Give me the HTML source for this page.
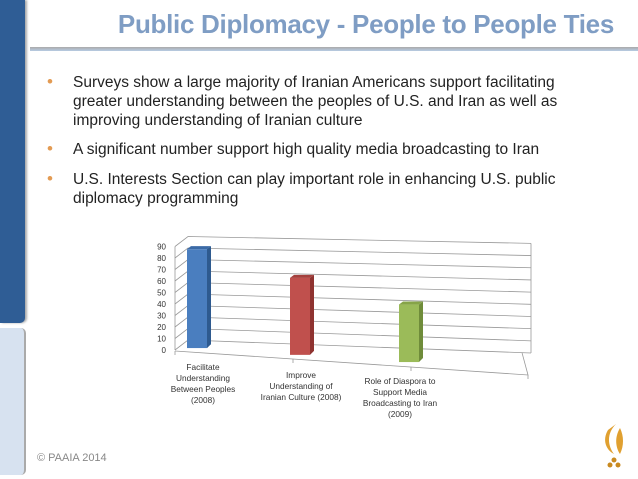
<!DOCTYPE html>
<html><head><meta charset="utf-8"><style>
body{margin:0;width:638px;height:479px;position:relative;background:#fff;overflow:hidden;font-family:"Liberation Sans",sans-serif}
.abs{position:absolute}
.bl{position:absolute;left:73px;font-size:15.5px;line-height:19px;color:#222;white-space:nowrap}
.dot{position:absolute;left:-26px;top:-1px;color:#e39b53;font-size:17px}
</style></head><body>
<div class="abs" style="left:0;top:0;width:25px;height:323px;background:#2f5d95;border-bottom-right-radius:5px;box-shadow:2px 0 2px #aaa"></div>
<div class="abs" style="left:0;top:328px;width:24px;height:147px;background:#d7e2f0;border-right:2px solid #aaa;border-radius:0 5px 5px 0"></div>
<div class="abs" style="left:88px;top:9px;width:526px;text-align:right;font-size:26px;font-weight:bold;color:#7f9dc4;white-space:nowrap;letter-spacing:-0.3px">Public Diplomacy - People to People Ties</div>
<div class="abs" style="left:30px;top:47px;width:608px;height:4px;background:linear-gradient(#aaa,#b7cbe3)"></div>
<div class="bl" style="top:73px"><span class="dot">•</span>Surveys show a large majority of Iranian Americans support facilitating<br>greater understanding between the peoples of U.S. and Iran as well as<br>improving understanding of Iranian culture</div>
<div class="bl" style="top:140px"><span class="dot">•</span>A significant number support high quality media broadcasting to Iran</div>
<div class="bl" style="top:170px"><span class="dot">•</span>U.S. Interests Section can play important role in enhancing U.S. public<br>diplomacy programming</div>
<div class="abs" style="left:37px;top:452px;font-size:11px;color:#888">© PAAIA 2014</div>
<svg class="abs" style="left:600px;top:420px" width="30" height="50"><path d="M16 4 C6 14 8 26 14 34 C6 30 2 20 8 10 Z M20 8 C14 18 16 28 20 34 C24 26 24 16 20 8Z" fill="#e0a030"/><circle cx="14" cy="40" r="2.5" fill="#c98a20"/><circle cx="10" cy="45" r="2.5" fill="#c98a20"/><circle cx="18" cy="45" r="2.5" fill="#c98a20"/></svg>
<svg class="abs" id="chart" style="left:0;top:0" width="638" height="479"></svg>
<script>
const categories=[["Facilitate","Understanding","Between Peoples","(2008)"],["Improve","Understanding of","Iranian Culture (2008)"],["Role of Diaspora to","Support Media","Broadcasting to Iran","(2009)"]];
const values=[86,67,50];
const ticks=[0,10,20,30,40,50,60,70,80,90];
const colors=[["#4a7ebf","#2e5a8f","#3b6aa6"],["#c0504d","#8f3330","#a4403d"],["#9bbb59","#6f8c3a","#86a448"]];
const NS="http://www.w3.org/2000/svg";
const svg=document.getElementById('chart');
const S=1.15;
function backY(v,x){return 340-v*S+(x-188)*(0.02+(90-v)*0.0002);}
function frontY(v){return 350-v*S;}
function baseY(x){return 348+(x-196)*0.066;}
function mk(t,a,p){const e=document.createElementNS(NS,t);for(const k in a)e.setAttribute(k,a[k]);(p||svg).appendChild(e);return e;}
ticks.forEach(v=>{
 const g=mk('polyline',{points:`175,${frontY(v)} 188,${backY(v,188)} 531,${backY(v,531)}`,fill:'none',stroke:'#999','stroke-width':0.8});
 
 
 const t=mk('text',{x:166,y:frontY(v)+3,'font-size':8,'text-anchor':'end',fill:'#333','font-family':'Liberation Sans, sans-serif'});
 t.textContent=v;
 
 
});
mk('line',{x1:175,y1:frontY(90),x2:175,y2:frontY(0),stroke:'#999','stroke-width':0.8});
mk('polyline',{points:`175,351 528,375 522,${backY(0,522)}`,fill:'none',stroke:'#999','stroke-width':0.8});
mk('line',{x1:531,y1:backY(90,531),x2:531,y2:backY(0,531),stroke:'#999','stroke-width':0.8});
[175,293,411,528].forEach(x=>mk('line',{x1:x,y1:351+(x-175)*0.068,x2:x,y2:355+(x-175)*0.068,stroke:'#999','stroke-width':0.8}));
const xs=[187,290,399];
values.forEach((v,i)=>{
 const x=xs[i],w=20,d=4,b=baseY(x+10),top=b-v*S;
 const g=mk('g',{});
 
 
 mk('rect',{x:x,y:top,width:w,height:b-top,fill:colors[i][0]},g);
 mk('polygon',{points:`${x+w},${top} ${x+w+d},${top-3} ${x+w+d},${b-4} ${x+w},${b}`,fill:colors[i][1]},g);
 mk('polygon',{points:`${x},${top} ${x+d},${top-3} ${x+w+d},${top-3} ${x+w},${top}`,fill:colors[i][2]},g);
 const cx=[203,301,400][i],cy=[370,378,384][i];
 categories[i].forEach((s,j)=>{
  const t=mk('text',{x:cx,y:cy+j*11,'font-size':8.3,'text-anchor':'middle',fill:'#333','font-family':'Liberation Sans, sans-serif'});
  t.textContent=s;
  
  
 });
});
</script>
</body></html>
